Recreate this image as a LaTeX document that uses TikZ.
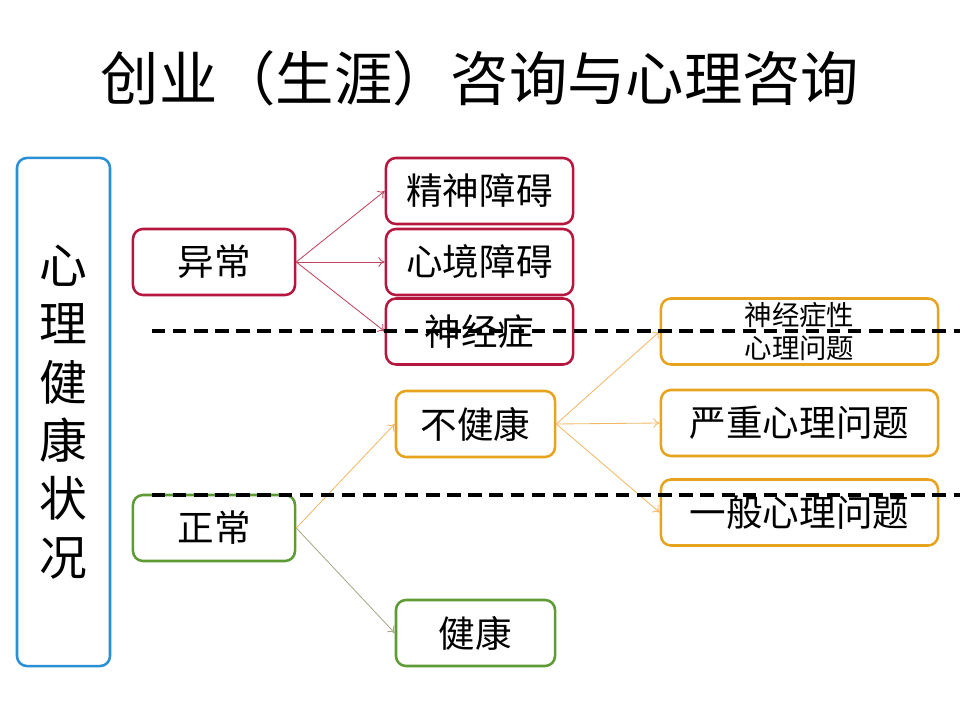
\documentclass[tikz,border=0pt]{standalone}
\usepackage{fontspec}
\usetikzlibrary{arrows.meta}
\newfontfamily\cjk{Noto Sans CJK SC}
\definecolor{vermelho}{HTML}{B5173F}
\definecolor{laranja}{HTML}{E8A31E}
\definecolor{verde}{HTML}{5E9B35}
\definecolor{azul}{HTML}{2B8FD4}
\definecolor{setavermelha}{HTML}{C0455F}
\definecolor{setalaranja}{HTML}{F0B868}
\definecolor{setaverde}{HTML}{A8A888}
\begin{document}
\begin{tikzpicture}[x=0.025cm, y=-0.025cm,
	caixa/.style={draw, line width=1.8pt, rounded corners=0.25cm, inner sep=0pt,
		minimum height=1.65cm, font=\cjk\fontsize{26}{30}\selectfont},
	seta/.style={-{To[length=4.5pt,width=7pt]}, line width=0.6pt}]
		\useasboundingbox (0,0) rectangle (960,720);						% Margens
		\node[font=\cjk\fontsize{41.5}{48}\selectfont] (titulo) at (480,78) {创业（生涯）咨询与心理咨询};	% Titulo
		
		% Coluna da esquerda
		\node[caixa, draw=azul, minimum width=2.325cm, minimum height=12.7cm, align=center,
			font=\cjk\fontsize{34}{41.5}\selectfont] (estado) at (63.5,412) {心\\理\\健\\康\\状\\况};
		
		% Elementos
		\node[caixa, draw=vermelho, minimum width=4.05cm]	(yichang) at (214,262)		{异常};
		\node[caixa, draw=verde, minimum width=4.05cm]		(zhengchang) at (214,528)	{正常};
		
		\node[caixa, draw=vermelho, minimum width=4.675cm]	(jsza) at (479.5,191)		{精神障碍};
		\node[caixa, draw=vermelho, minimum width=4.675cm]	(xjza) at (479.5,262)		{心境障碍};
		\node[caixa, draw=vermelho, minimum width=4.675cm]	(sjz) at (479.5,331.5)		{神经症};
		
		\node[caixa, draw=laranja, minimum width=3.975cm]	(bujiankang) at (475.5,424)	{不健康};
		\node[caixa, draw=verde, minimum width=3.975cm]		(jiankang) at (475.5,633)	{健康};
		
		\node[caixa, draw=laranja, minimum width=6.925cm, align=center,
			font=\cjk\fontsize{19.5}{23}\selectfont]		(wt1) at (799.5,331.5)		{神经症性\\心理问题};
		\node[caixa, draw=laranja, minimum width=6.925cm]	(wt2) at (799.5,423)		{严重心理问题};
		\node[caixa, draw=laranja, minimum width=6.925cm]	(wt3) at (799.5,512.5)		{一般心理问题};
		
		% Setas
		\draw[seta, setavermelha] (yichang.east) -- (jsza.west);
		\draw[seta, setavermelha] (yichang.east) -- (xjza.west);
		\draw[seta, setavermelha] (yichang.east) -- (sjz.west);
		\draw[seta, setalaranja] (zhengchang.east) -- (bujiankang.west);
		\draw[seta, setaverde] (zhengchang.east) -- (jiankang.west);
		\draw[seta, setalaranja] (bujiankang.east) -- (wt1.west);
		\draw[seta, setalaranja] (bujiankang.east) -- (wt2.west);
		\draw[seta, setalaranja] (bujiankang.east) -- (wt3.west);
		
		% Linhas tracejadas
		\draw[line width=2.6pt, dash pattern=on 9.5pt off 5.5pt] (152,331) -- (960,331);
		\draw[line width=2.6pt, dash pattern=on 9.5pt off 5.5pt] (152,495) -- (960,495);
	\end{tikzpicture}
\end{document}
